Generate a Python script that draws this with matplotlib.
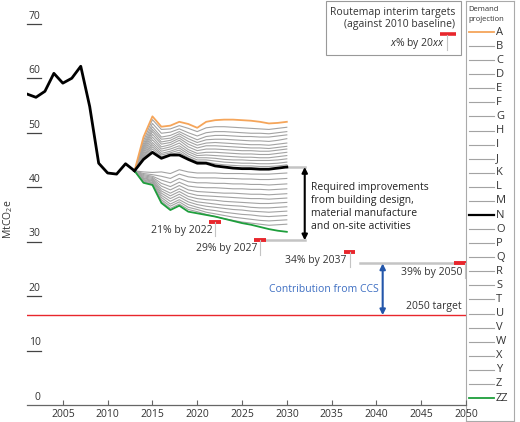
import numpy as np
import matplotlib.pyplot as plt
from matplotlib.patches import Rectangle
from matplotlib.lines import Line2D

plt.rcParams['font.family'] = ['Open Sans', 'DejaVu Sans']
plt.rcParams['mathtext.fontset'] = 'custom'
plt.rcParams['mathtext.rm'] = 'Open Sans'
plt.rcParams['mathtext.it'] = 'Open Sans:italic'

# historic emissions (MtCO2e)
hist_years = list(range(2001, 2014))
hist_vals = [57.1, 56.5, 57.6, 60.9, 59.1, 60.0, 62.2, 54.8, 44.4, 42.6, 42.4, 44.3, 43.0]

# demand projections 2013-2030
proj_years = list(range(2013, 2031))
proj_names = ['A', 'B', 'C', 'D', 'E', 'F', 'G', 'H', 'I', 'J', 'K', 'L', 'M',
              'N', 'O', 'P', 'Q', 'R', 'S', 'T', 'U', 'V', 'W', 'X', 'Y', 'Z', 'ZZ']
proj_A = [43.0, 49.2, 53.0, 51.1, 51.3, 52.0, 51.6, 50.9, 52.0, 52.3, 52.4, 52.4, 52.3, 52.2, 52.0, 51.7, 51.8, 52.0]
proj_B = [43.0, 48.5, 52.4, 50.6, 50.7, 51.3, 50.8, 50.2, 50.9, 51.1, 51.1, 51.0, 50.9, 50.8, 50.7, 50.6, 50.8, 51.0]
proj_C = [43.0, 48.0, 51.7, 49.9, 50.1, 50.7, 50.0, 49.4, 50.0, 50.2, 50.2, 50.1, 50.0, 49.9, 49.9, 49.8, 50.0, 50.2]
proj_D = [43.0, 47.6, 51.1, 49.2, 49.5, 50.2, 49.4, 48.7, 49.3, 49.5, 49.5, 49.4, 49.3, 49.3, 49.2, 49.2, 49.4, 49.6]
proj_E = [43.0, 47.3, 50.6, 48.8, 49.0, 49.8, 48.9, 48.2, 48.7, 48.8, 48.8, 48.7, 48.6, 48.5, 48.5, 48.4, 48.6, 48.9]
proj_F = [43.0, 47.0, 50.2, 48.3, 48.6, 49.4, 48.4, 47.7, 48.1, 48.2, 48.1, 48.0, 47.9, 47.8, 47.8, 47.7, 47.9, 48.1]
proj_G = [43.0, 46.7, 49.7, 47.9, 48.2, 49.0, 47.9, 47.2, 47.6, 47.6, 47.5, 47.4, 47.3, 47.2, 47.2, 47.1, 47.3, 47.5]
proj_H = [43.0, 46.4, 49.2, 47.4, 47.8, 48.6, 47.4, 46.7, 47.0, 47.0, 46.9, 46.8, 46.7, 46.7, 46.6, 46.6, 46.8, 47.0]
proj_I = [43.0, 46.1, 48.7, 47.0, 47.4, 48.1, 46.9, 46.2, 46.4, 46.4, 46.3, 46.2, 46.1, 46.1, 46.0, 46.0, 46.2, 46.4]
proj_J = [43.0, 45.8, 48.2, 46.6, 47.0, 47.6, 46.5, 45.8, 45.9, 45.8, 45.7, 45.6, 45.5, 45.5, 45.4, 45.4, 45.6, 45.8]
proj_K = [43.0, 45.6, 47.8, 46.2, 46.6, 47.2, 46.1, 45.4, 45.4, 45.3, 45.1, 45.0, 45.0, 44.9, 44.9, 44.9, 45.0, 45.2]
proj_L = [43.0, 45.4, 47.4, 45.9, 46.3, 46.8, 45.7, 45.0, 45.0, 44.8, 44.6, 44.5, 44.4, 44.4, 44.3, 44.3, 44.4, 44.6]
proj_M = [43.0, 45.2, 47.0, 45.6, 46.0, 46.4, 45.4, 44.7, 44.6, 44.3, 44.1, 44.0, 43.9, 43.9, 43.8, 43.8, 43.9, 44.1]
proj_N = [43.0, 45.1, 46.4, 45.3, 45.9, 45.9, 45.1, 44.4, 44.4, 43.9, 43.7, 43.5, 43.4, 43.4, 43.3, 43.3, 43.5, 43.7]
proj_O = [43.0, 42.8, 42.7, 42.8, 42.5, 43.2, 42.8, 42.6, 42.6, 42.6, 42.5, 42.5, 42.5, 42.4, 42.4, 42.4, 42.5, 42.6]
proj_P = [43.0, 42.5, 42.3, 42.0, 41.6, 42.4, 41.9, 41.7, 41.7, 41.7, 41.6, 41.6, 41.5, 41.5, 41.4, 41.4, 41.5, 41.6]
proj_Q = [43.0, 42.3, 42.0, 41.3, 40.8, 41.6, 41.0, 40.8, 40.8, 40.7, 40.7, 40.6, 40.6, 40.5, 40.5, 40.4, 40.5, 40.6]
proj_R = [43.0, 42.1, 41.8, 40.7, 40.1, 40.9, 40.2, 40.0, 39.9, 39.9, 39.8, 39.7, 39.7, 39.6, 39.6, 39.5, 39.6, 39.7]
proj_S = [43.0, 41.9, 41.6, 40.2, 39.5, 40.3, 39.5, 39.2, 39.1, 39.0, 38.9, 38.9, 38.8, 38.7, 38.7, 38.6, 38.7, 38.8]
proj_T = [43.0, 41.7, 41.4, 39.7, 38.9, 39.7, 38.9, 38.5, 38.4, 38.3, 38.2, 38.1, 38.0, 37.9, 37.9, 37.8, 37.9, 38.0]
proj_U = [43.0, 41.6, 41.2, 39.3, 38.4, 39.2, 38.3, 37.9, 37.7, 37.6, 37.4, 37.3, 37.2, 37.1, 37.0, 37.0, 37.1, 37.2]
proj_V = [43.0, 41.4, 41.1, 38.9, 37.9, 38.7, 37.8, 37.3, 37.1, 36.9, 36.7, 36.6, 36.5, 36.3, 36.2, 36.2, 36.3, 36.4]
proj_W = [43.0, 41.3, 40.9, 38.5, 37.4, 38.2, 37.3, 36.8, 36.5, 36.3, 36.1, 35.9, 35.8, 35.6, 35.5, 35.4, 35.5, 35.6]
proj_X = [43.0, 41.1, 40.8, 38.1, 36.9, 37.7, 36.8, 36.3, 35.9, 35.7, 35.4, 35.2, 35.0, 34.9, 34.7, 34.6, 34.7, 34.8]
proj_Y = [43.0, 41.0, 40.6, 37.7, 36.5, 37.3, 36.3, 35.9, 35.4, 35.1, 34.8, 34.5, 34.3, 34.1, 33.9, 33.8, 33.9, 34.0]
proj_Z = [43.0, 40.9, 40.5, 37.4, 36.1, 36.9, 35.9, 35.5, 35.0, 34.6, 34.2, 33.9, 33.6, 33.4, 33.2, 33.0, 33.1, 33.2]
proj_ZZ = [43.0, 40.8, 40.4, 37.1, 35.8, 36.6, 35.5, 35.2, 34.9, 34.6, 34.2, 33.8, 33.4, 33.1, 32.7, 32.3, 32.0, 31.8]
proj_vals = [proj_A, proj_B, proj_C, proj_D, proj_E, proj_F, proj_G, proj_H, proj_I,
             proj_J, proj_K, proj_L, proj_M, proj_N, proj_O, proj_P, proj_Q, proj_R,
             proj_S, proj_T, proj_U, proj_V, proj_W, proj_X, proj_Y, proj_Z, proj_ZZ]

# routemap interim targets (against 2010 baseline)
baseline = 42.6
target_years = [2022, 2027, 2037, 2050]
target_pct = [21, 29, 34, 39]
target_vals = [baseline * (1 - p / 100) for p in target_pct]
target_2050 = 16.5
ccs_x = 2040.7
arrow_x = 2032.0

y_ticks = [0, 10, 20, 30, 40, 50, 60, 70]
x_ticks = [2005, 2010, 2015, 2020, 2025, 2030, 2035, 2040, 2045, 2050]

ORANGE = '#F5A55A'
GREEN = '#1E9E3C'
GREY = '#A3A3A3'
LIGHT = '#C4C4C4'
RED = '#E8262C'
BLUE = '#2356AA'

def line_style(name):
    if name == 'A':
        return ORANGE, 1.3
    if name == 'N':
        return 'black', 2.0
    if name == 'ZZ':
        return GREEN, 1.3
    return GREY, 0.8

fig = plt.figure(figsize=(5.2, 4.22), dpi=100)

# demand projection key (drawn underneath the main axes)
lax = fig.add_axes([466 / 520, 1 / 422, 48 / 520, 420 / 422])
lax.set_zorder(1)
lax.set_xlim(466, 514)
lax.set_ylim(421, 1)
lax.set_xticks([])
lax.set_yticks([])
for s in lax.spines.values():
    s.set_color('#AAAAAA')
    s.set_linewidth(0.8)
rows = np.linspace(32, 398, len(proj_names))
for name, r in zip(proj_names, rows):
    c, lw = line_style(name)
    lax.plot([469, 494], [r, r], color=c, lw=min(lw, 1.6))
    lax.text(496, r, name, ha='left', va='center', fontsize=8, color='#333333')
lax.text(468, 6, 'Demand\nprojection', ha='left', va='top', fontsize=5.5, linespacing=1.6, color='#333333')

ax = fig.add_axes([27 / 520, 17 / 422, 439 / 520, 403 / 422])
ax.set_zorder(2)
ax.patch.set_alpha(0)
ax.set_xlim(2001, 2050)
ax.set_ylim(0, 74)

# projections: grey first, highlighted on top
for name, vals in zip(proj_names, proj_vals):
    c, lw = line_style(name)
    z = 3 if name in ('A', 'N', 'ZZ') else 2
    ax.plot(proj_years, vals, color=c, lw=lw, zorder=z)
ax.plot(hist_years, hist_vals, color='black', lw=2.0, zorder=4)

# 2050 target
ax.axhline(target_2050, color=RED, lw=1.0, zorder=2)

# connectors to the arrows
ax.plot([2030, arrow_x], [proj_N[-1], proj_N[-1]], color=LIGHT, lw=1.8, zorder=1)
ax.plot([target_years[1] + 0.65, arrow_x], [target_vals[1]] * 2, color=LIGHT, lw=1.8, zorder=1)
ax.plot([2038.2, 2048.7], [target_vals[3]] * 2, color=LIGHT, lw=1.8, zorder=1)

# red target markers with small grey ticks
tick_x = [2022, 2027, 2037, 2049.9]
for yr, v, tx, p in zip(target_years, target_vals, tick_x, target_pct):
    end = min(yr + 0.65, 2050)
    ax.plot([end - 1.3, end], [v, v], color=RED, lw=2.8, solid_capstyle='butt', zorder=5)
    ax.plot([tx, tx], [v, v - 2.7], color=LIGHT, lw=0.8, zorder=5)
    ax.text(tx - 0.3, v - 1.6, f'{p}% by {yr}', ha='right', va='center', fontsize=7.5, color='#333333')

ax.annotate('', xy=(arrow_x, target_vals[1]), xytext=(arrow_x, proj_N[-1]),
            arrowprops=dict(arrowstyle='<|-|>', color='black', lw=1.5,
                            mutation_scale=8, shrinkA=0, shrinkB=0), zorder=6)
ax.text(arrow_x + 0.7, 36.4, 'Required improvements\nfrom building design,\nmaterial manufacture\nand on-site activities',
        ha='left', va='center', fontsize=7.5, linespacing=1.25, color='#222222')

ax.annotate('', xy=(ccs_x, target_2050), xytext=(ccs_x, target_vals[3]),
            arrowprops=dict(arrowstyle='<|-|>', color=BLUE, lw=1.5,
                            mutation_scale=8, shrinkA=0, shrinkB=0), zorder=6)
ax.text(2040.3, 21.3, 'Contribution from CCS', ha='right', va='center', fontsize=7.5, color='#3D6EC2')
ax.text(2049.5, 18.0, '2050 target', ha='right', va='center', fontsize=7.5, color='#333333')

# y labels sitting on short underlines
for v in y_ticks:
    ax.text(2002.5, v + 0.4, str(v), ha='right', va='bottom', fontsize=7.5, color='#333333')
    if v > 0:
        ax.plot([2001, 2002.56], [v, v], color='#444444', lw=0.9, clip_on=False)
ax.set_yticks([])
ax.text(-0.042, 0.46, 'MtCO$_2$e', transform=ax.transAxes, rotation=90,
        ha='center', va='center', fontsize=7.5, color='#333333')

ax.set_xticks(x_ticks)
ax.tick_params(axis='x', direction='in', length=3.5, width=0.8, color='#666666',
               labelsize=7.5, labelcolor='#333333', pad=3)
for s in ('top', 'right', 'left'):
    ax.spines[s].set_visible(False)
ax.spines['bottom'].set_color('#666666')
ax.spines['bottom'].set_linewidth(0.9)

# routemap key box
fig.add_artist(Rectangle((326 / 520, 1 - 55 / 422), 135 / 520, 54 / 422, transform=fig.transFigure,
                         fill=False, ec='#999999', lw=0.8))
fig.text(455 / 520, 1 - 12.5 / 422, 'Routemap interim targets', ha='right', va='center', fontsize=7.5, color='#333333')
fig.text(455 / 520, 1 - 25 / 422, '(against 2010 baseline)', ha='right', va='center', fontsize=7.5, color='#333333')
fig.text(445 / 520, 1 - 43.5 / 422, r'$x$% by 20$xx$', ha='right', va='center', fontsize=7.5, color='#333333')
fig.add_artist(Line2D([440 / 520, 456 / 520], [1 - 34 / 422] * 2, transform=fig.transFigure,
                      color=RED, lw=2.6, solid_capstyle='butt'))
fig.add_artist(Line2D([447 / 520] * 2, [1 - 35 / 422, 1 - 50 / 422], transform=fig.transFigure,
                      color=LIGHT, lw=0.8))

fig.savefig('out.png', dpi=100)
